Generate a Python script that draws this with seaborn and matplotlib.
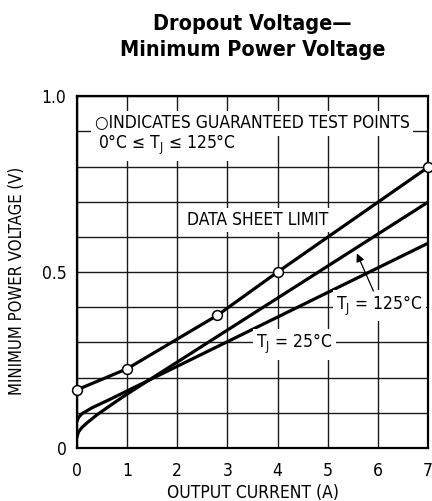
import numpy as np
import pandas as pd
import seaborn as sns
import matplotlib.pyplot as plt
from matplotlib import font_manager

# values
limit_current = [0, 1, 2.8, 4, 7]
limit_voltage = [0.165, 0.225, 0.377, 0.5, 0.798]

tj125_current = [0, 0.03, 0.1, 0.2, 0.4, 0.7, 1, 2, 3, 4, 5, 6, 7]
tj125_voltage = [0.030, 0.045, 0.058, 0.071, 0.094, 0.124, 0.153, 0.244, 0.335,
                 0.426, 0.517, 0.608, 0.699]

tj25_current = [0, 0.03, 0.1, 0.3, 0.6, 1, 2, 3, 4, 5, 6, 7]
tj25_voltage = [0.075, 0.086, 0.097, 0.114, 0.134, 0.162, 0.232, 0.302, 0.372,
                0.442, 0.512, 0.582]

x_ticks = [0, 1, 2, 3, 4, 5, 6, 7]
y_ticks = [0, 0.5, 1.0]
y_tick_labels = ["0", "0.5", "1.0"]

df = pd.concat([
    pd.DataFrame({"current": limit_current, "voltage": limit_voltage, "series": "limit"}),
    pd.DataFrame({"current": tj125_current, "voltage": tj125_voltage, "series": "125"}),
    pd.DataFrame({"current": tj25_current, "voltage": tj25_voltage, "series": "25"}),
])
pts = pd.DataFrame({"current": limit_current, "voltage": limit_voltage})

sns.set_style("white")
names = {f.name for f in font_manager.fontManager.ttflist}
if "Liberation Sans Narrow" in names:
    narrow, stretch = "Liberation Sans Narrow", "normal"
else:
    narrow, stretch = "DejaVu Sans", "condensed"
plt.rcParams["font.family"] = [narrow, "DejaVu Sans"]
plt.rcParams["font.stretch"] = stretch
plt.rcParams["mathtext.fontset"] = "custom"
plt.rcParams["mathtext.rm"] = narrow
plt.rcParams["text.color"] = "black"
plt.rcParams["axes.labelcolor"] = "black"
plt.rcParams["xtick.color"] = "black"
plt.rcParams["ytick.color"] = "black"

fig = plt.figure(figsize=(4.32, 5.01), dpi=100)
ax = fig.add_axes([0.178, 0.106, 0.813, 0.702])

sns.lineplot(data=df, x="current", y="voltage", hue="series", sort=False,
             palette={"limit": "black", "125": "black", "25": "black"},
             linewidth=2.3, legend=False, ax=ax, zorder=3)
sns.scatterplot(data=pts, x="current", y="voltage", s=50, color="white",
                edgecolor="black", linewidth=1.1, ax=ax, zorder=5, clip_on=False)

ax.set_xlim(0, 7)
ax.set_ylim(0, 1.0)
ax.set_xticks(x_ticks)
ax.set_yticks(y_ticks)
ax.set_yticklabels(y_tick_labels)
ax.set_yticks(np.arange(0, 1.01, 0.1), minor=True)
ax.grid(True, which="both", color="#1a1a1a", linewidth=1.0, zorder=0.5)
ax.set_axisbelow(True)
ax.tick_params(axis="both", which="both", length=0, labelsize=12.5)
ax.tick_params(axis="x", pad=10)
ax.tick_params(axis="y", pad=7.5)
for s in ax.spines.values():
    s.set_color("black")
    s.set_linewidth(1.6)

ax.set_xlabel("OUTPUT CURRENT (A)", fontsize=12.5)
ax.set_ylabel("MINIMUM POWER VOLTAGE (V)", fontsize=12)
ax.xaxis.set_label_coords(0.5, -0.102)
ax.yaxis.set_label_coords(-0.145, 0.474)

box = dict(facecolor="white", edgecolor="none", pad=2.5)
ax.text(0.36, 0.923, "○INDICATES GUARANTEED TEST POINTS", fontsize=12.5,
        ha="left", va="center", bbox=box, zorder=4)
ax.text(0.42, 0.861, r"0°C ≤ $\mathregular{T_J}$ ≤ 125°C", fontsize=12.5,
        ha="left", va="center", bbox=box, zorder=4)
ax.text(3.6, 0.648, "DATA SHEET LIMIT", fontsize=12.5, ha="center", va="center",
        bbox=box, zorder=4)
ax.text(6.03, 0.405, r"$\mathregular{T_J}$ = 125°C", fontsize=12.5, ha="center",
        va="center", bbox=box, zorder=4)
ax.text(4.33, 0.295, r"$\mathregular{T_J}$ = 25°C", fontsize=12.5, ha="center",
        va="center", bbox=box, zorder=4)
ax.annotate("", xy=(5.58, 0.553), xytext=(5.91, 0.446),
            arrowprops=dict(arrowstyle="-|>", color="black", lw=0.9,
                            mutation_scale=12, shrinkA=0, shrinkB=0), zorder=4)

fig.text(0.584, 0.973, "Dropout Voltage—\nMinimum Power Voltage", fontsize=15.5,
         fontweight="bold", ha="center", va="top", linespacing=1.4)

fig.savefig("out.png", dpi=100)
